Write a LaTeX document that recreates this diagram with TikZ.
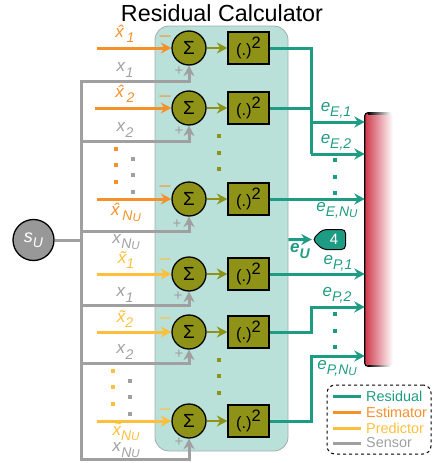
\documentclass[tikz,border=0pt]{standalone}
\usepackage{fontspec}
\setmainfont{Liberation Sans}
\usetikzlibrary{arrows.meta, shapes.symbols}
\definecolor{cteal}{HTML}{1E9C83}
\definecolor{corange}{HTML}{F5912A}
\definecolor{cyellow}{HTML}{FEC03C}
\definecolor{cgrey}{HTML}{A0A0A0}
\definecolor{cpanel}{HTML}{B9E0D9}
\definecolor{colive}{HTML}{8E9318}
\definecolor{cred}{HTML}{D03A4C}
\newcommand{\lbl}[2]{\textit{#1}\raisebox{-.3em}{\fontsize{14}{15}\selectfont\itshape #2}}
\newcommand{\nuser}{N\raisebox{-.06em}{\fontsize{11.5}{12}\selectfont U}}
\tikzset{
  every picture/.style={x=1pt, y=-1pt, font=\fontsize{18}{20}\selectfont},
  panel/.style={draw=cgrey!80!cpanel, fill=cpanel, rounded corners=14pt, line width=.8pt, minimum width=133pt, minimum height=425pt},
  sumnode/.style={circle, draw=black, fill=colive, line width=1.3pt, minimum size=34pt, inner sep=0pt, font=\fontsize{19}{20}\selectfont},
  sqnode/.style={rectangle, draw=black, fill=colive, line width=1.3pt, minimum width=41pt, minimum height=32pt, inner sep=0pt, font=\fontsize{16.5}{18}\selectfont},
  arrowed/.style={-{Stealth[length=10.5pt, width=11pt]}},
  oline/.style={draw=corange, line width=3pt},
  yline/.style={draw=cyellow, line width=3pt},
  gline/.style={draw=cgrey, line width=3pt},
  tline/.style={draw=cteal, line width=3pt},
  vline/.style={draw=colive, line width=2.8pt},
  lab/.style={inner sep=0pt, font=\fontsize{17}{20}\selectfont},
  minus/.style={inner sep=0pt, font=\fontsize{11}{12}\selectfont\bfseries},
  plus/.style={inner sep=0pt, text=cgrey, font=\fontsize{15}{16}\selectfont},
  dotmark/.style={fill=#1, minimum size=4pt, inner sep=0pt, rectangle},
  legtxt/.style={anchor=west, inner xsep=5pt, inner ysep=0pt, font=\fontsize{14.4}{15}\selectfont},
}
\begin{document}
\begin{tikzpicture}
  \useasboundingbox (0,0) rectangle (433,463);
  \node[inner sep=0pt, font=\fontsize{23.3}{25}\selectfont] (title) at (222,13) {Residual Calculator};
  \node[panel] (calc) at (221.5,238.5) {};

  % sensor source and bus
  \node[circle, draw=black, fill=cgrey!95!black, line width=1.3pt, minimum size=41pt, inner sep=0pt, text=white] (su) at (33.5,240) {\lbl{s}{U}};
  \coordinate (bustop) at (81,81);
  \coordinate (busa) at (81,141);
  \coordinate (busb) at (81,231);
  \coordinate (busm) at (81,240);
  \coordinate (busc) at (81,305);
  \coordinate (busd) at (81,363);
  \coordinate (buse) at (81,459);

  % summing nodes and squares
  \node[sumnode] (suma) at (189,48) {Σ};
  \node[sumnode] (sumb) at (189,108) {Σ};
  \node[sumnode] (sumc) at (189,199) {Σ};
  \node[sumnode] (sumd) at (189,274) {Σ};
  \node[sumnode] (sume) at (189,332) {Σ};
  \node[sumnode] (sumf) at (189,421) {Σ};
  \node[sqnode] (sqa) at (248.5,48) {(.)\raisebox{.38em}{2}};
  \node[sqnode] (sqb) at (248.5,108) {(.)\raisebox{.38em}{2}};
  \node[sqnode] (sqc) at (248.5,199) {(.)\raisebox{.38em}{2}};
  \node[sqnode] (sqd) at (248.5,274) {(.)\raisebox{.38em}{2}};
  \node[sqnode] (sqe) at (248.5,332) {(.)\raisebox{.38em}{2}};
  \node[sqnode] (sqf) at (248.5,421) {(.)\raisebox{.38em}{2}};
  \draw[vline, arrowed] (suma) -- (sqa); \draw[vline, arrowed] (sumb) -- (sqb); \draw[vline, arrowed] (sumc) -- (sqc);
  \draw[vline, arrowed] (sumd) -- (sqd); \draw[vline, arrowed] (sume) -- (sqe); \draw[vline, arrowed] (sumf) -- (sqf);

  % sensor lines
  \draw[gline] (su) -- (busm);
  \draw[gline, line cap=rect] (bustop) -- (buse);
  \draw[gline, arrowed] (bustop) -| (suma);
  \draw[gline, arrowed] (busa) -| (sumb);
  \draw[gline, arrowed] (busb) -| (sumc);
  \draw[gline, arrowed] (busc) -| (sumd);
  \draw[gline, arrowed] (busd) -| (sume);
  \draw[gline, arrowed] (buse) -| (sumf);

  % estimator and predictor inputs
  \coordinate (ina) at (97,48);
  \coordinate (inb) at (95,108);
  \coordinate (inc) at (97,199);
  \coordinate (ind) at (97,274);
  \coordinate (ine) at (97,332);
  \coordinate (inf) at (97,421);
  \draw[oline, arrowed] (ina) -- (suma); \draw[oline, arrowed] (inb) -- (sumb); \draw[oline, arrowed] (inc) -- (sumc);
  \draw[yline, arrowed] (ind) -- (sumd); \draw[yline, arrowed] (ine) -- (sume); \draw[yline, arrowed] (inf) -- (sumf);

  % input labels
  \node[lab, text=corange] (lxa) at (125,34) {\lbl{\^x}{1}};
  \node[lab, text=cgrey] (lsa) at (125,70) {\lbl{x}{1}};
  \node[lab, text=corange] (lxb) at (125,94) {\lbl{\^x}{2}};
  \node[lab, text=cgrey] (lsb) at (125,130) {\lbl{x}{2}};
  \node[lab, text=corange] (lxc) at (126,212) {\lbl{\^x}{\nuser}};
  \node[lab, text=cgrey] (lsc) at (126,242) {\lbl{x}{\nuser}};
  \node[lab, text=cyellow] (lxd) at (126,260) {\lbl{\~x}{1}};
  \node[lab, text=cgrey] (lsd) at (125,295) {\lbl{x}{1}};
  \node[lab, text=cyellow] (lxe) at (125,319) {\lbl{\~x}{2}};
  \node[lab, text=cgrey] (lse) at (125,352) {\lbl{x}{2}};
  \node[lab, text=cyellow] (lxf) at (126,432) {\lbl{\~x}{\nuser}};
  \node[lab, text=cgrey] (lsf) at (126,450.5) {\lbl{x}{\nuser}};

  % signs
  \node[minus, text=corange] (ma) at (165,38) {---};
  \node[minus, text=corange] (mb) at (165,98) {---};
  \node[minus, text=corange] (mc) at (165,188) {---};
  \node[minus, text=cyellow] (md) at (165,261) {---};
  \node[minus, text=cyellow] (me) at (165,320) {---};
  \node[minus, text=cyellow] (mf) at (165,411) {---};
  \node[plus] (pa) at (179,71) {+};
  \node[plus] (pb) at (179,131) {+};
  \node[plus] (pc) at (177,224) {+};
  \node[plus] (pd) at (178,296) {+};
  \node[plus] (pe) at (179,354) {+};
  \node[plus] (pf) at (179,442) {+};

  % vertical dots
  \node[dotmark=corange] (o1) at (116,149) {}; \node[dotmark=corange] (o2) at (116,165) {}; \node[dotmark=corange] (o3) at (116,182) {};
  \node[dotmark=cgrey] (g1) at (132.5,159) {}; \node[dotmark=cgrey] (g2) at (132.5,175) {}; \node[dotmark=cgrey] (g3) at (132.5,192) {};
  \node[dotmark=cyellow] (y1) at (113,371) {}; \node[dotmark=cyellow] (y2) at (113,387) {}; \node[dotmark=cyellow] (y3) at (113,404) {};
  \node[dotmark=cgrey] (g4) at (130,381) {}; \node[dotmark=cgrey] (g5) at (130,397) {}; \node[dotmark=cgrey] (g6) at (130,414) {};
  \node[dotmark=colive] (v1) at (219,136) {}; \node[dotmark=colive] (v2) at (219,153) {}; \node[dotmark=colive] (v3) at (219,169) {};
  \node[dotmark=colive] (v4) at (219,360) {}; \node[dotmark=colive] (v5) at (219,376) {}; \node[dotmark=colive] (v6) at (219,393) {};
  \node[dotmark=cteal] (t1) at (335,160) {}; \node[dotmark=cteal] (t2) at (335,177) {}; \node[dotmark=cteal] (t3) at (335,193) {};
  \node[dotmark=cteal] (t4) at (335,314) {}; \node[dotmark=cteal] (t5) at (335,331) {}; \node[dotmark=cteal] (t6) at (335,347) {};

  % red bar
  \node[rectangle, rounded corners=3pt, minimum width=28pt, minimum height=253pt, inner sep=0pt, left color=cred, right color=white] (bar) at (379,239.5) {};
  \shade[left color=black, right color=white] ([xshift=3pt]bar.north west) rectangle ++(23,1.2);
  \shade[left color=black, right color=white] ([xshift=3pt]bar.south west) rectangle ++(23,-1.2);
  \draw[black, line width=1.2pt, rounded corners=3pt] ([xshift=4pt]bar.north west) -- (bar.north west) -- (bar.south west) -- ([xshift=4pt]bar.south west);

  % residual outputs
  \coordinate (jea) at (311,122);
  \coordinate (jeb) at (311,154);
  \coordinate (jpb) at (311,307);
  \coordinate (jpc) at (311,356);
  \draw[tline] (sqa) -| (jeb);
  \draw[tline] (sqb) -- (sqb -| jeb);
  \draw[tline, arrowed] (jea) -- (jea -| bar.west);
  \draw[tline, arrowed] (jeb) -- (jeb -| bar.west);
  \draw[tline, arrowed] (sqc) -- (sqc -| bar.west);
  \draw[tline, arrowed] (sqd) -- (sqd -| bar.west);
  \draw[tline, arrowed] (sqe) -| (jpb) -- (jpb -| bar.west);
  \draw[tline, arrowed] (sqf) -| (jpc) -- (jpc -| bar.west);

  % off-page tag
  \node[signal, signal to=west, draw=black, fill=cteal, text=white, line width=1pt, rounded corners=4pt, minimum width=33pt, minimum height=20pt, inner sep=0pt, font=\fontsize{15}{16}\selectfont] (tag) at (334,239.5) {4};
  \draw[tline, arrowed] (calc.east |- tag) -- (tag);

  % residual labels
  \node[lab, text=cteal] (lea) at (336,110) {\lbl{e}{E,1}};
  \node[lab, text=cteal] (leb) at (336,142) {\lbl{e}{E,2}};
  \node[lab, text=cteal] (lec) at (337,210) {\lbl{e}{E,\nuser}};
  \node[lab, text=cteal, font=\fontsize{17}{20}\selectfont\bfseries] (leu) at (300,251) {\lbl{e}{U}};
  \node[lab, text=cteal] (lpa) at (338,263) {\lbl{e}{P,1}};
  \node[lab, text=cteal] (lpb) at (337,295) {\lbl{e}{P,2}};
  \node[lab, text=cteal] (lpc) at (337,368) {\lbl{e}{P,\nuser}};

  % legend
  \node[draw=black, dashed, rounded corners=8pt, line width=1pt, minimum width=104pt, minimum height=69pt] (legend) at (379,419.5) {};
  \node[legtxt, text=cteal] (legr) at (361,396) {Residual};
  \node[legtxt, text=corange] (lege) at (361,412) {Estimator};
  \node[legtxt, text=cyellow] (legp) at (361,428) {Predictor};
  \node[legtxt, text=cgrey] (legs) at (361,443) {Sensor};
  \coordinate (lgr) at (333,396);
  \coordinate (lge) at (333,412);
  \coordinate (lgp) at (333,428);
  \coordinate (lgs) at (333,443);
  \draw[tline] (lgr) -- (legr.west);
  \draw[oline] (lge) -- (lege.west);
  \draw[yline] (lgp) -- (legp.west);
  \draw[gline] (lgs) -- (legs.west);
\end{tikzpicture}
\end{document}
